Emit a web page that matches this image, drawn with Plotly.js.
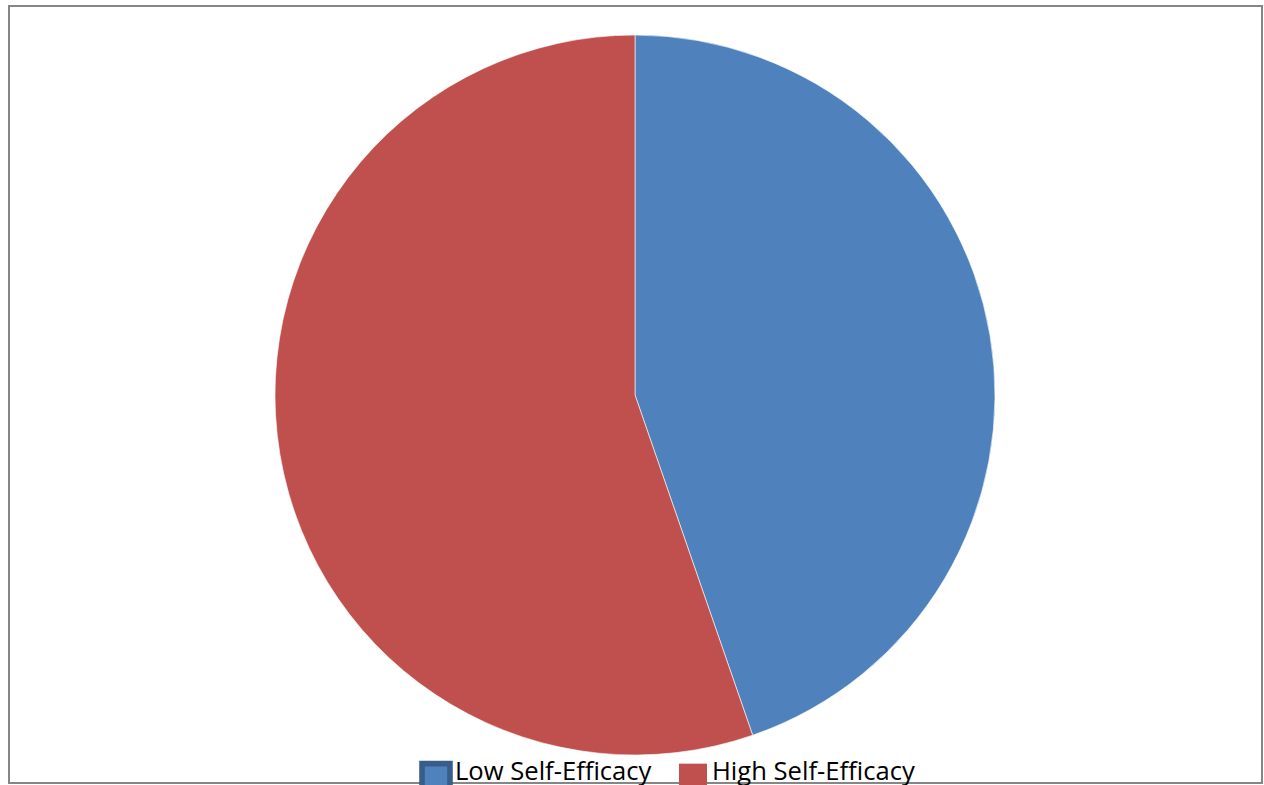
<!DOCTYPE html>
<html>
<head>
<meta charset="utf-8">
<script src="https://cdn.plot.ly/plotly-3.0.1.min.js"></script>
<style>
  html, body { margin: 0; padding: 0; background: #ffffff; }
  #chart { width: 1264px; height: 785px; }
</style>
</head>
<body>
<div id="chart"></div>
<script>
// Share of respondents by self-efficacy level
const categories = ['Low Self-Efficacy', 'High Self-Efficacy'];
const shares = [44.7, 55.3];
const sliceColors = ['#4f81bd', '#c0504d'];
const legendBorders = ['#385d8a', null];

const trace = {
  type: 'pie',
  labels: categories,
  values: shares,
  sort: false,
  direction: 'clockwise',
  rotation: 0,
  textinfo: 'none',
  hoverinfo: 'label+percent',
  marker: { colors: sliceColors, line: { color: '#ffffff', width: 0.6 } }
};

const layout = {
  width: 1264,
  height: 785,
  margin: { l: 6, r: 0, t: 35, b: 30, autoexpand: false },
  paper_bgcolor: '#ffffff',
  plot_bgcolor: '#ffffff',
  showlegend: true,
  legend: {
    orientation: 'h',
    xref: 'container', yref: 'container',
    x: 415 / 1264, xanchor: 'left',
    y: 15 / 785, yanchor: 'middle',
    entrywidth: 212,
    font: { family: 'Open Sans, Liberation Sans, sans-serif', size: 25.6, color: '#000000' },
    bgcolor: 'rgba(0,0,0,0)',
    traceorder: 'normal'
  },
  // outer chart frame
  shapes: [{
    type: 'rect', xref: 'paper', yref: 'paper',
    x0: 3 / 1258, x1: 1256 / 1258,
    y0: 1 - (783 - 35) / 720, y1: 1 + (35 - 6) / 720,
    line: { color: '#868686', width: 2 },
    fillcolor: 'rgba(0,0,0,0)',
    layer: 'above'
  }]
};

Plotly.newPlot('chart', [trace], layout, { displayModeBar: false, staticPlot: true }).then(gd => {
  // larger legend swatches sitting a little low, the low-efficacy one outlined
  gd.querySelectorAll('.legend .legendpoints path').forEach((p, i) => {
    const base = p.getAttribute('transform') || '';
    p.setAttribute('transform', base + ' translate(1,8) scale(2.33)');
    const c = legendBorders[i];
    if (c) {
      p.style.stroke = c;
      p.style.strokeWidth = '2.4px';
    } else {
      p.style.strokeWidth = '0px';
    }
  });
  // keep the swatches from being clipped at the legend box edge
  gd.querySelectorAll('.legend .scrollbox').forEach(s => s.removeAttribute('clip-path'));
});
</script>
</body>
</html>
